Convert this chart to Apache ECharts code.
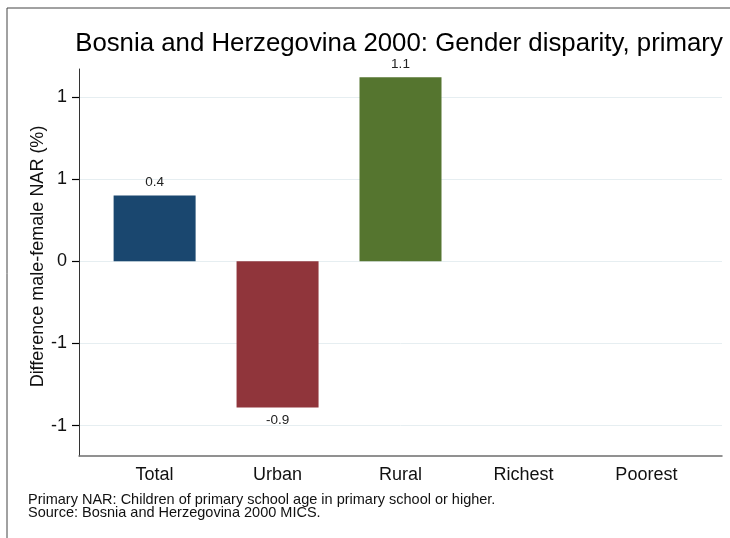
<!DOCTYPE html>
<html>
<head>
<meta charset="utf-8">
<script src="https://cdn.jsdelivr.net/npm/echarts@6/dist/echarts.min.js"></script>
<style>
  html, body { margin: 0; padding: 0; background: #fff; }
  #chart { width: 730px; height: 538px; }
</style>
</head>
<body>
<div id="chart"></div>
<script>
// categories / values
const categories = ["Total", "Urban", "Rural", "Richest", "Poorest"];
const values = [0.4, -0.89, 1.12];
const barColors = ["#1a476f", "#90353b", "#55752f"];
const yTicks = [-1, -0.5, 0, 0.5, 1];
const titleText = "Bosnia and Herzegovina 2000: Gender disparity, primary";
const yTitle = "Difference male-female NAR (%)";
const notes = [
  "Primary NAR: Children of primary school age in primary school or higher.",
  "Source: Bosnia and Herzegovina 2000 MICS.",
];

const font = "Liberation Sans, Arial, Helvetica, sans-serif";
const chart = echarts.init(document.getElementById("chart"));

const option = {
  backgroundColor: "#fff",
  textStyle: { fontFamily: font },
  title: [
    {
      text: titleText,
      left: 394,
      top: 26,
      textAlign: "center",
      textStyle: { fontSize: 25.8, fontWeight: "normal", color: "#000", fontFamily: font },
    },
    {
      text: notes.join("\n"),
      left: 23,
      top: 489,
      textStyle: { fontSize: 14.5, fontWeight: "normal", color: "#111", lineHeight: 12.5, fontFamily: font },
    },
  ],
  graphic: [
    {
      type: "rect",
      shape: { x: 7, y: 8, width: 800, height: 600 },
      style: { fill: null, stroke: "#444", lineWidth: 1 },
      silent: true,
    },
  ],
  grid: {
    left: 79,
    top: 69,
    right: 8,
    bottom: 82,
    containLabel: false,
    outerBoundsMode: "none",
  },
  xAxis: {
    type: "value",
    min: -0.615,
    max: 4.615,
    axisLine: { show: true, onZero: false, lineStyle: { color: "#6e6e6e", width: 1.5 } },
    axisTick: { show: false },
    splitLine: { show: false },
    axisLabel: {
      customValues: [0, 1, 2, 3, 4],
      formatter: (v) => categories[v],
      fontSize: 18,
      color: "#111",
      margin: 10,
    },
  },
  yAxis: {
    type: "value",
    min: -1.185,
    max: 1.17,
    name: yTitle,
    nameLocation: "middle",
    nameGap: 32,
    nameMoveOverlap: false,
    nameTextStyle: { fontSize: 18, color: "#111", padding: [0, 0, 0, 12] },
    axisLine: { show: true, onZero: false, lineStyle: { color: "#333", width: 1 } },
    axisTick: {
      show: true,
      customValues: yTicks,
      length: 7,
      lineStyle: { color: "#000", width: 1.2 },
    },
    axisLabel: {
      customValues: yTicks,
      formatter: (v) => v.toFixed(0),
      fontSize: 18,
      color: "#111",
      margin: 12,
    },
    splitLine: { show: true, lineStyle: { color: "#e6eef1", width: 1 } },
  },
  series: [
    {
      type: "bar",
      barWidth: 82,
      data: values.map((v, i) => ({
        value: [i, v],
        itemStyle: { color: barColors[i] },
        label: { position: v < 0 ? "bottom" : "top" },
      })),
      label: {
        show: true,
        distance: 6,
        fontSize: 13.5,
        color: "#222",
        formatter: (p) => p.value[1].toFixed(1),
      },
    },
  ],
};

chart.setOption(option);
</script>
</body>
</html>
